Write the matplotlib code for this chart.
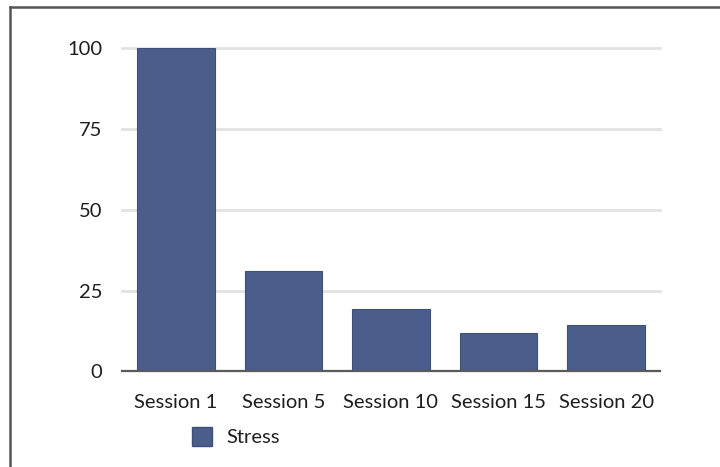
import matplotlib
matplotlib.use("Agg")
import matplotlib.pyplot as plt
from matplotlib.lines import Line2D
from matplotlib.patches import Rectangle

categories = ["Session 1", "Session 5", "Session 10", "Session 15", "Session 20"]
stress = [100, 31.2, 19.4, 12.0, 14.4]
y_ticks = [0, 25, 50, 75, 100]
series_name = "Stress"

bar_color = "#4a5d8b"
grid_color = "#e2e2e2"
axis_color = "#5a5a5a"
text_color = "#1e1e1e"

plt.rcParams["font.family"] = ["Lato", "DejaVu Sans"]

fig = plt.figure(figsize=(7.2, 4.67), dpi=100)
fig.patch.set_facecolor("white")

ax = fig.add_axes([0.1694, 0.2045, 0.7472, 0.6923])
x = range(len(categories))
ax.bar(x, stress, width=0.72, color=bar_color, edgecolor="#3f5079",
       linewidth=0.8, zorder=3)

for t in y_ticks[1:]:
    ax.axhline(t, color=grid_color, linewidth=2, zorder=1, clip_on=False)
ax.axhline(0, color=axis_color, linewidth=1.6, zorder=4, clip_on=False)

ax.set_xlim(-0.5, len(categories) - 0.5)
ax.set_ylim(0, 100)
ax.set_xticks(list(x))
ax.set_xticklabels(categories, fontsize=14.5, color=text_color)
ax.set_yticks(y_ticks)
ax.set_yticklabels([str(t) for t in y_ticks], fontsize=14.5, color=text_color)
ax.tick_params(axis="both", length=0)
ax.tick_params(axis="x", pad=16)
ax.tick_params(axis="y", pad=14)
for s in ax.spines.values():
    s.set_visible(False)

# legend entry below the axis
handle = Rectangle((0, 0), 1, 1, facecolor=bar_color, edgecolor="#3f5079")
leg = fig.legend([handle], [series_name], loc="center left",
                 bbox_to_anchor=(0.252, 0.065), frameon=False,
                 fontsize=14.5, handlelength=1.0, handleheight=1.05,
                 handletextpad=0.75, borderpad=0)
for t in leg.get_texts():
    t.set_color(text_color)

# thin frame along the top and left edges
fig.add_artist(Line2D([9.5 / 720, 1.0], [1 - 6.5 / 467, 1 - 6.5 / 467],
                      transform=fig.transFigure, color="#555555", linewidth=1.8))
fig.add_artist(Line2D([9.5 / 720, 9.5 / 720], [0.0, 1 - 6.5 / 467],
                      transform=fig.transFigure, color="#555555", linewidth=1.8))

fig.savefig("out.png", dpi=100)
